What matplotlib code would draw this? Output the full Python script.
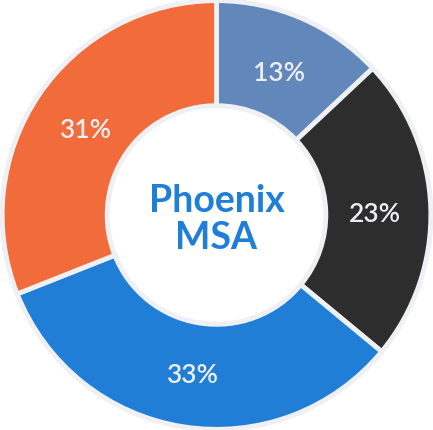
import matplotlib.pyplot as plt
import numpy as np

# Données du graphique
parts = [13, 23, 33, 31]
labels = ["13%", "23%", "33%", "31%"]
couleurs = ["#6287bb", "#2d2d2d", "#207ed6", "#f26b3a"]
centre_texte = "Phoenix\nMSA"

fig = plt.figure(figsize=(4.33, 4.30), dpi=100)
ax = fig.add_axes([0, 0, 1, 1])

wedges, _ = ax.pie(parts, colors=couleurs, startangle=90, counterclock=False,
                   radius=1.0,
                   wedgeprops=dict(width=0.49, edgecolor="#eef0f4", linewidth=3.5))

# étiquettes des pourcentages
for w, lab in zip(wedges, labels):
    ang = np.deg2rad((w.theta1 + w.theta2) / 2)
    r = 0.74
    ax.text(r * np.cos(ang), r * np.sin(ang) - 0.02, lab, ha="center", va="center",
            color="#eceef2", fontsize=19, fontweight="semibold", family="Lato")

ax.text(0, -0.02, centre_texte, ha="center", va="center", color="#1f7fd8",
        fontsize=27, fontweight="bold", family="Lato", linespacing=1.1)

ax.set_xlim(-1.01, 1.01)
ax.set_ylim(-1.0, 1.0)
ax.set_aspect("equal")
ax.axis("off")
fig.savefig("out.png", dpi=100)
